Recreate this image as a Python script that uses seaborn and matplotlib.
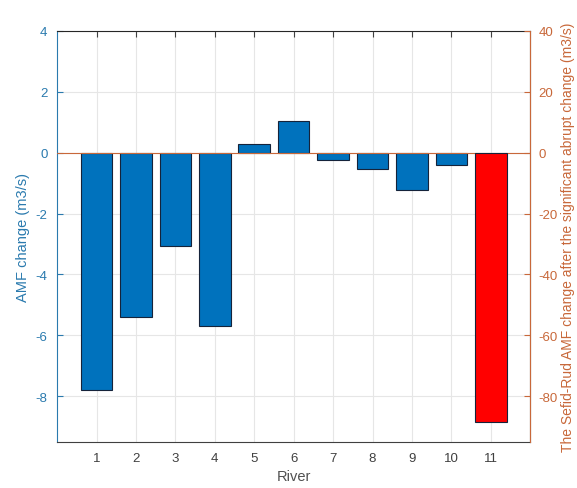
import pandas as pd
import matplotlib.pyplot as plt
import seaborn as sns

# River AMF change values
rivers = [1, 2, 3, 4, 5, 6, 7, 8, 9, 10]
amf_change = [-7.8, -5.4, -3.05, -5.68, 0.27, 1.03, -0.24, -0.54, -1.22, -0.41]
sefid_river = [11]
sefid_change = [-88.5]

blue = "#0072BD"
left_txt = "#2A7AAE"
orange = "#C8683A"

sns.set_style("white")
plt.rcParams["font.family"] = ["Liberation Sans", "DejaVu Sans"]
plt.rcParams["axes.unicode_minus"] = False

fig, ax = plt.subplots(figsize=(5.77, 4.89), dpi=100)
fig.subplots_adjust(left=0.099, right=0.919, top=0.935, bottom=0.094)

df_left = pd.DataFrame({"river": rivers, "change": amf_change})
sns.barplot(data=df_left, x="river", y="change", native_scale=True, width=0.8,
            color=blue, saturation=1, edgecolor="#15233a", linewidth=0.8, ax=ax)
ax.set_xlim(0, 12)
ax.set_ylim(-9.5, 4)
ax.set_yticks([-8, -6, -4, -2, 0, 2, 4])
ax.set_xticks(range(1, 12))
ax.grid(True, color="#e6e6e6", linewidth=0.8)
ax.set_axisbelow(True)
ax.set_xlabel("River", fontsize=10.5, color="#505050")
ax.set_ylabel("AMF change (m3/s)", fontsize=10.5, color=left_txt)
ax.tick_params(axis="y", colors=left_txt, labelsize=9.5, direction="in", length=4, pad=7)
ax.tick_params(axis="x", colors="#404040", labelsize=9.5, direction="in", length=4,
               pad=7, top=True)
ax.tick_params(axis="x", labelcolor="#404040")
ax.spines["left"].set_color(left_txt)
ax.spines["bottom"].set_color("#404040")
ax.spines["top"].set_color("#262626")

ax2 = ax.twinx()
df_right = pd.DataFrame({"river": sefid_river, "change": sefid_change})
sns.barplot(data=df_right, x="river", y="change", native_scale=True, width=0.8,
            color="#FF0000", saturation=1, edgecolor="#15233a", linewidth=0.8, ax=ax2)
ax2.set_xlim(0, 12)
ax2.set_ylim(-95, 40)
ax2.set_yticks([-80, -60, -40, -20, 0, 20, 40])
ax2.axhline(0, color=orange, linewidth=0.8, zorder=0.5)
ax2.set_ylabel("The Sefid-Rud AMF change after the significant abrupt change (m3/s)",
               fontsize=10, color=orange, labelpad=2)
ax2.tick_params(axis="y", colors=orange, labelsize=9.5, direction="in", length=4, pad=6)
ax2.spines["right"].set_color(orange)
ax2.spines["left"].set_visible(False)
ax2.spines["top"].set_visible(False)
ax2.spines["bottom"].set_visible(False)
ax2.set_xlabel("")

fig.savefig("out.png", dpi=100)
